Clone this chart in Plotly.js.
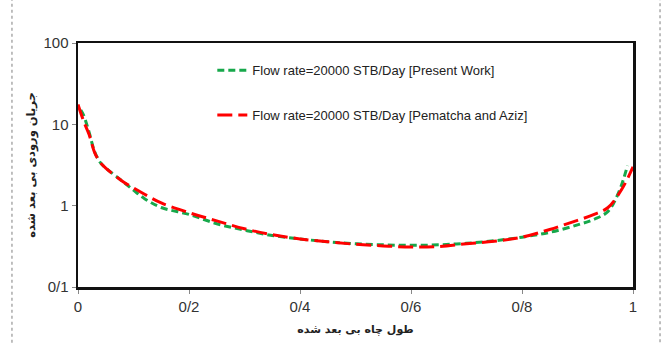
<!DOCTYPE html>
<html>
<head>
<meta charset="utf-8">
<script src="https://cdn.plot.ly/plotly-3.0.1.min.js"></script>
<style>html,body{margin:0;padding:0;background:#fff;}#chart{width:664px;height:344px;}</style>
</head>
<body>
<div id="chart"></div>
<script>
// Dimensionless well length
const xPresent = [0.005, 0.01, 0.02, 0.03, 0.04, 0.05, 0.08, 0.1, 0.12, 0.15, 0.2, 0.25, 0.3, 0.35, 0.4, 0.45, 0.5, 0.55, 0.6, 0.65, 0.7, 0.75, 0.8, 0.85, 0.9, 0.93, 0.955, 0.975, 0.99];
const yPresent = [15, 13, 8, 4.6, 3.4, 2.9, 2.0, 1.55, 1.22, 0.95, 0.78, 0.6, 0.5, 0.43, 0.39, 0.36, 0.34, 0.33, 0.325, 0.33, 0.345, 0.37, 0.41, 0.47, 0.58, 0.68, 0.85, 1.5, 3.1];
const xPematcha = [0, 0.01, 0.02, 0.03, 0.04, 0.05, 0.08, 0.1, 0.12, 0.15, 0.2, 0.25, 0.3, 0.35, 0.4, 0.45, 0.5, 0.55, 0.6, 0.65, 0.7, 0.75, 0.8, 0.85, 0.9, 0.93, 0.955, 0.98, 1.0];
const yPematcha = [17.5, 11, 7.5, 4.5, 3.4, 2.9, 2.0, 1.65, 1.38, 1.08, 0.82, 0.65, 0.52, 0.44, 0.39, 0.36, 0.335, 0.32, 0.31, 0.315, 0.34, 0.365, 0.41, 0.51, 0.66, 0.78, 0.95, 1.6, 3.0];
const xTickVals = [0, 0.2, 0.4, 0.6, 0.8, 1];
const xTickText = ['0', '0/2', '0/4', '0/6', '0/8', '1'];
const yTickVals = [0.1, 1, 10, 100];
const yTickText = ['0/1', '1', '10', '100'];
const name1 = 'Flow rate=20000 STB/Day [Present Work]';
const name2 = 'Flow rate=20000 STB/Day [Pematcha and Aziz]';
const xTitle = 'طول چاه بی بعد شده';
const yTitle = 'جریان ورودی بی بعد شده';

const traces = [
  {x: xPresent, y: yPresent, name: name1, mode: 'lines', legendgroup: 'a',
   line: {color: '#17a84b', width: 3, dash: '7px,4px', shape: 'spline'}},
  {x: xPematcha, y: yPematcha, name: name2, mode: 'lines', legendgroup: 'b',
   line: {color: '#ff0000', width: 3, dash: '15px,6px', shape: 'spline'}}
];
const layout = {
  width: 664, height: 344,
  margin: {l: 78, r: 31, t: 43, b: 57},
  paper_bgcolor: '#fff', plot_bgcolor: '#fff',
  font: {family: 'Liberation Sans, Arial, sans-serif', color: '#333'},
  showlegend: true,
  legend: {x: 0.242, y: 0.95, xanchor: 'left', yanchor: 'top', bgcolor: 'rgba(0,0,0,0)',
           traceorder: 'grouped', tracegroupgap: 25, font: {size: 13, color: '#222'}},
  xaxis: {range: [0, 1], tickvals: xTickVals, ticktext: xTickText, showgrid: false, zeroline: false,
          showline: true, linecolor: '#111', linewidth: 2.5, mirror: true,
          ticks: 'outside', ticklen: 4, tickcolor: '#888', tickfont: {size: 15, color: '#333'},
          title: {text: '<b>' + xTitle + '</b>', font: {family: 'DejaVu Sans', size: 11, color: '#222'}, standoff: 12}},
  yaxis: {type: 'log', range: [-1, 2], tickvals: yTickVals, ticktext: yTickText, showgrid: false, zeroline: false,
          showline: true, linecolor: '#111', linewidth: 2.5, mirror: true,
          ticks: 'outside', ticklen: 4, tickcolor: '#888', tickfont: {size: 15, color: '#333'},
          title: {text: '<b>' + yTitle + '</b>', font: {family: 'DejaVu Sans', size: 11.5, color: '#222'}, standoff: 6}},
  shapes: [
    {type: 'rect', xref: 'paper', yref: 'paper', x0: -0.119, x1: 1.0487, y0: -0.3, y1: 1.1803,
     line: {color: '#aaa', width: 1.5, dash: 'dot'}}
  ]
};
Plotly.newPlot('chart', traces, layout, {displayModeBar: false, staticPlot: true});
</script>
</body>
</html>
